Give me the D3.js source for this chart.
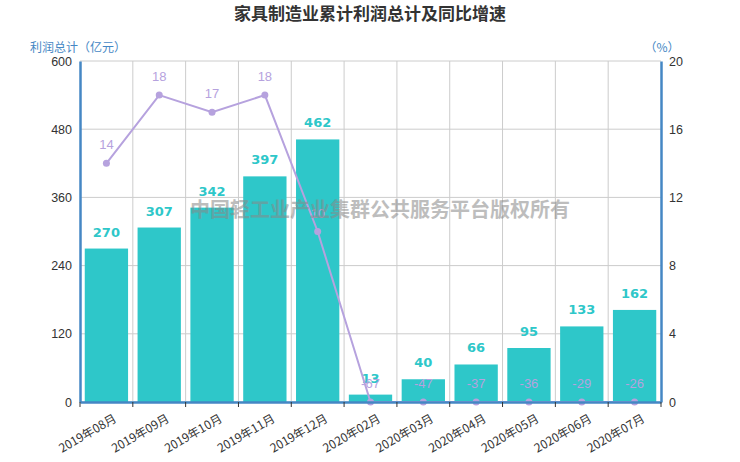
<!DOCTYPE html>
<html>
<head>
<meta charset="utf-8">
<script src="https://cdn.jsdelivr.net/npm/d3@7"></script>
<style>
  body { margin: 0; background: #fff; }
  text { font-family: "Microsoft YaHei", "Noto Sans CJK SC", sans-serif; }
</style>
</head>
<body>
<div id="chart"></div>
<script>
// data
var months = ["2019年08月", "2019年09月", "2019年10月", "2019年11月", "2019年12月",
  "2020年02月", "2020年03月", "2020年04月", "2020年05月", "2020年06月", "2020年07月"];
var profit = [270, 307, 342, 397, 462, 13, 40, 66, 95, 133, 162];
var growth = [14, 18, 17, 18, 10, -67, -47, -37, -36, -29, -26];
var leftTicks = [0, 120, 240, 360, 480, 600];
var rightTicks = [0, 4, 8, 12, 16, 20];

var W = 740, H = 462;
var margin = { top: 61, right: 79, bottom: 60, left: 80 };
var width = W - margin.left - margin.right,
    height = H - margin.top - margin.bottom;

var barColor = "#2ec7c9", lineColor = "#b6a2de", axisColor = "#4587c4";

var svg = d3.select("#chart").append("svg")
  .attr("width", W).attr("height", H);

svg.append("text")
  .attr("x", W / 2).attr("y", 20)
  .attr("text-anchor", "middle")
  .style("font-size", "17px").style("font-weight", "bold").style("fill", "#333")
  .text("家具制造业累计利润总计及同比增速");

var g = svg.append("g")
  .attr("transform", "translate(" + margin.left + "," + margin.top + ")");

var x = d3.scaleBand().domain(months).range([0, width]);
var yL = d3.scaleLinear().domain([0, 600]).range([height, 0]);
var yR = d3.scaleLinear().domain([0, 20]).range([height, 0]).clamp(true);

// grid lines
g.selectAll(".hgrid").data(leftTicks).enter().append("line")
  .attr("x1", 0).attr("x2", width)
  .attr("y1", function(d) { return yL(d) }).attr("y2", function(d) { return yL(d) })
  .attr("stroke", "#ccc");
g.selectAll(".vgrid").data(months.slice(1)).enter().append("line")
  .attr("x1", function(d) { return x(d) }).attr("x2", function(d) { return x(d) })
  .attr("y1", 0).attr("y2", height)
  .attr("stroke", "#ccc");

// bars
var bw = x.bandwidth() * 0.82;
g.selectAll(".bar").data(profit).enter().append("rect")
  .attr("x", function(d, i) { return x(months[i]) + (x.bandwidth() - bw) / 2 })
  .attr("y", function(d) { return yL(d) })
  .attr("width", bw)
  .attr("height", function(d) { return height - yL(d) })
  .attr("fill", barColor);

// watermark
svg.append("text")
  .attr("x", 380).attr("y", 217)
  .attr("text-anchor", "middle")
  .style("font-size", "20px").style("font-weight", "bold")
  .style("fill", "#888").style("opacity", 0.55)
  .text("中国轻工业产业集群公共服务平台版权所有");

// bar labels
g.selectAll(".blabel").data(profit).enter().append("text")
  .attr("x", function(d, i) { return x(months[i]) + x.bandwidth() / 2 })
  .attr("y", function(d) { return yL(d) - 12 })
  .attr("text-anchor", "middle")
  .style("font-family", "Verdana, 'DejaVu Sans', sans-serif")
  .style("font-size", "13px").style("font-weight", "bold")
  .style("fill", barColor)
  .text(function(d) { return d });

// growth line
var line = d3.line()
  .x(function(d, i) { return x(months[i]) + x.bandwidth() / 2 })
  .y(function(d) { return yR(d) });
g.append("path").datum(growth)
  .attr("d", line)
  .attr("fill", "none").attr("stroke", lineColor).attr("stroke-width", 2);
g.selectAll(".dot").data(growth).enter().append("circle")
  .attr("cx", function(d, i) { return x(months[i]) + x.bandwidth() / 2 })
  .attr("cy", function(d) { return yR(d) })
  .attr("r", 3.5).attr("fill", lineColor);
g.selectAll(".llabel").data(growth).enter().append("text")
  .attr("x", function(d, i) { return x(months[i]) + x.bandwidth() / 2 })
  .attr("y", function(d) { return yR(d) - 14 })
  .attr("text-anchor", "middle")
  .style("font-family", "'Liberation Sans', Arial, sans-serif")
  .style("font-size", "13px").style("fill", lineColor)
  .text(function(d) { return d });

// axes
var axL = g.append("g").call(d3.axisLeft(yL).tickValues(leftTicks).tickSize(0).tickPadding(8));
var axR = g.append("g").attr("transform", "translate(" + width + ",0)")
  .call(d3.axisRight(yR).tickValues(rightTicks).tickSize(0).tickPadding(8));
var axB = g.append("g").attr("transform", "translate(0," + height + ")")
  .call(d3.axisBottom(x).tickSize(0).tickPadding(10));

[axL, axR].forEach(function(a) {
  a.select(".domain").attr("stroke", axisColor).attr("stroke-width", 2.5);
  a.selectAll("text").style("font-size", "12.5px").style("fill", "#333")
    .style("font-family", "'Liberation Sans', Arial, sans-serif");
});
axB.select(".domain").attr("stroke", axisColor).attr("stroke-width", 2.5);
axB.selectAll("text").style("font-size", "12px").style("fill", "#333")
  .style("font-family", "'Microsoft YaHei', 'Noto Sans CJK SC', sans-serif");

// bottom tick marks at category boundaries
g.selectAll(".btick").data(months.concat(["end"])).enter().append("line")
  .attr("x1", function(d, i) { return i * x.step() }).attr("x2", function(d, i) { return i * x.step() })
  .attr("y1", height).attr("y2", height + 5)
  .attr("stroke", "#333");

axB.selectAll(".tick text")
  .attr("text-anchor", "end")
  .attr("y", 0).attr("dy", 0)
  .attr("transform", "translate(11,19) rotate(-30)");

// axis names
svg.append("text")
  .attr("x", 30).attr("y", 52)
  .style("font-size", "12px").style("fill", axisColor)
  .text("利润总计（亿元）");
svg.append("text")
  .attr("x", 662).attr("y", 52)
  .attr("text-anchor", "middle")
  .style("font-size", "12px").style("fill", axisColor)
  .text("（%）");
</script>
</body>
</html>
